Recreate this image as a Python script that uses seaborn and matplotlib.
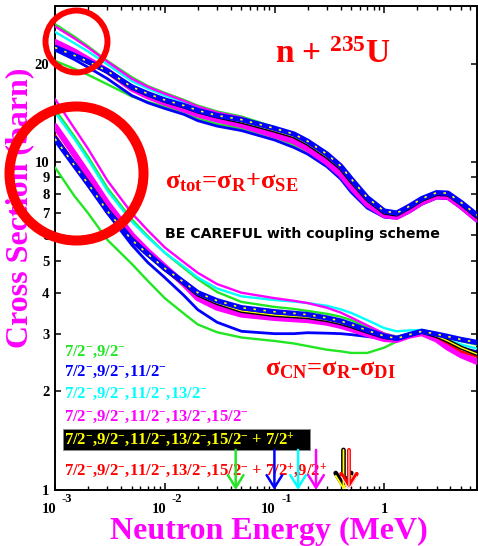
import matplotlib
matplotlib.use("Agg")
import matplotlib.pyplot as plt
import matplotlib.transforms as mtransforms
from matplotlib.patches import Rectangle
from matplotlib.ticker import LogLocator, NullFormatter, NullLocator
import seaborn as sns

# ---------------------------------------------------------------- data
energy = [0.001, 0.0015, 0.002, 0.003, 0.005, 0.007, 0.01, 0.015, 0.02,
          0.03, 0.05, 0.1, 0.15, 0.2, 0.3, 0.4, 0.5, 0.7, 1.0, 1.3, 1.7,
          2.2, 3.0, 3.8, 5.0, 7.0]

# total cross sections (barn)
tot_green_hi = [26.4, 24.2, 22.6, 20.4, 18.2, 17.1, 16.3, 15.5, 14.9, 14.3,
                13.8, 12.8, 12.1, 11.5, 10.5, 9.6, 8.8, 7.75, 7.05, 6.95,
                7.3, 7.7, 8.08, 8.08, 7.5, 6.85]
tot_green_lo = [20.4, 19.3, 18.5, 17.3, 15.9, 15.3, 14.8, 14.2, 13.6, 13.1,
                12.7, 11.9, 11.3, 10.8, 9.9, 9.1, 8.3, 7.4, 6.9, 6.85,
                7.2, 7.65, 8.02, 8.0, 7.45, 6.8]
tot_blue = [22.0, 20.6, 19.5, 18.0, 16.0, 15.2, 14.6, 14.0, 13.4, 12.9,
            12.5, 11.7, 11.1, 10.6, 9.7, 8.9, 8.1, 7.25, 6.8, 6.75,
            7.05, 7.45, 7.78, 7.75, 7.25, 6.6]
tot_cyan = [25.0, 23.1, 21.8, 19.9, 17.7, 16.8, 16.0, 15.3, 14.7, 14.1,
            13.6, 12.6, 12.0, 11.4, 10.4, 9.55, 8.75, 7.75, 7.1, 7.05,
            7.35, 7.7, 8.0, 7.98, 7.45, 6.8]
tot_magenta_a = [26.0, 23.9, 22.4, 20.3, 18.0, 17.0, 16.2, 15.4, 14.8, 14.2,
                 13.7, 12.6, 12.0, 11.3, 10.3, 9.4, 8.6, 7.6, 6.95, 6.88,
                 7.2, 7.6, 7.92, 7.9, 7.4, 6.75]
tot_magenta_b = [23.3, 21.8, 20.6, 19.0, 16.8, 15.9, 15.2, 14.5, 14.0, 13.5,
                 13.0, 12.1, 11.6, 11.0, 10.0, 9.2, 8.4, 7.45, 6.9, 6.82,
                 7.15, 7.55, 7.88, 7.85, 7.35, 6.7]
tot_red = [22.6, 21.3, 20.3, 18.95, 16.95, 16.15, 15.45, 14.85, 14.35, 13.85,
           13.35, 12.5, 12.0, 11.4, 10.4, 9.58, 8.72, 7.68, 7.0, 6.92,
           7.27, 7.66, 7.97, 7.95, 7.45, 6.8]
tot_black = [22.5, 21.2, 20.2, 18.9, 16.9, 16.1, 15.4, 14.8, 14.3, 13.8,
             13.3, 12.5, 12.0, 11.4, 10.4, 9.6, 8.75, 7.7, 7.02, 6.93,
             7.28, 7.68, 8.0, 7.98, 7.48, 6.82]
tot_eval = [22.4, 21.2, 20.3, 19.0, 17.0, 16.2, 15.5, 14.9, 14.4, 13.9,
            13.5, 12.7, 12.2, 11.6, 10.6, 9.75, 8.9, 7.8, 7.1, 7.0,
            7.35, 7.75, 8.08, 8.05, 7.55, 6.9]

# compound-nucleus formation cross sections (barn)
cn_green_hi = [14.5, 12.0, 10.4, 8.35, 6.7, 5.95, 5.3, 4.75, 4.4, 4.02,
               3.75, 3.62, 3.57, 3.52, 3.45, 3.38, 3.3, 3.14, 3.0, 2.94,
               3.0, 3.08, 3.0, 2.92, 2.85, 2.78]
cn_green_lo = [9.65, 7.9, 7.0, 5.8, 4.9, 4.35, 3.85, 3.45, 3.2, 3.03,
               2.92, 2.85, 2.8, 2.75, 2.68, 2.65, 2.62, 2.62, 2.72, 2.84,
               2.97, 3.06, 3.0, 2.92, 2.85, 2.78]
cn_blue = [12.8, 10.4, 8.9, 7.0, 5.6, 4.95, 4.45, 3.92, 3.55, 3.25,
           3.05, 3.0, 3.0, 3.02, 3.01, 3.0, 2.98, 2.94, 2.9, 2.9,
           2.99, 3.06, 2.95, 2.83, 2.72, 2.64]
cn_cyan = [14.2, 11.8, 10.2, 8.2, 6.6, 5.9, 5.3, 4.8, 4.45, 4.12,
           3.9, 3.8, 3.76, 3.72, 3.65, 3.56, 3.47, 3.3, 3.12, 3.05,
           3.07, 3.08, 2.97, 2.88, 2.78, 2.7]
cn_magenta_a = [15.6, 12.7, 11.0, 8.8, 7.0, 6.2, 5.5, 4.95, 4.6, 4.25,
                4.0, 3.85, 3.78, 3.72, 3.6, 3.48, 3.36, 3.18, 3.0, 2.93,
                3.0, 3.03, 2.9, 2.76, 2.6, 2.5]
cn_magenta_b = [12.9, 10.6, 9.2, 7.5, 6.0, 5.35, 4.8, 4.25, 3.85, 3.6,
                3.43, 3.35, 3.32, 3.3, 3.24, 3.17, 3.1, 2.99, 2.89, 2.87,
                2.96, 3.01, 2.88, 2.72, 2.58, 2.46]
cn_red = [12.1, 10.0, 8.8, 7.25, 5.9, 5.3, 4.78, 4.32, 3.98, 3.75,
          3.55, 3.44, 3.41, 3.38, 3.31, 3.24, 3.17, 3.05, 2.94, 2.91,
          3.0, 3.05, 2.93, 2.8, 2.65, 2.55]
cn_black = [11.9, 9.85, 8.65, 7.15, 5.82, 5.25, 4.72, 4.27, 3.95, 3.72,
            3.52, 3.42, 3.39, 3.37, 3.3, 3.23, 3.16, 3.04, 2.93, 2.9,
            2.98, 3.04, 2.95, 2.85, 2.72, 2.6]
cn_eval = [11.8, 9.8, 8.6, 7.1, 5.8, 5.25, 4.75, 4.3, 4.0, 3.78,
           3.6, 3.5, 3.46, 3.43, 3.35, 3.28, 3.2, 3.07, 2.95, 2.9,
           2.98, 3.05, 2.99, 2.94, 2.88, 2.82]

# coupling schemes
scheme_labels = [
    r"7/2$^{-}$,9/2$^{-}$",
    r"7/2$^{-}$,9/2$^{-}$,11/2$^{-}$",
    r"7/2$^{-}$,9/2$^{-}$,11/2$^{-}$,13/2$^{-}$",
    r"7/2$^{-}$,9/2$^{-}$,11/2$^{-}$,13/2$^{-}$,15/2$^{-}$",
    r"7/2$^{-}$,9/2$^{-}$,11/2$^{-}$,13/2$^{-}$,15/2$^{-}$ + 7/2$^{+}$",
    r"7/2$^{-}$,9/2$^{-}$,11/2$^{-}$,13/2$^{-}$,15/2$^{-}$ + 7/2$^{+}$,9/2$^{+}$",
]
# energies (MeV) of the highest coupled level in each scheme
level_energy = [0.0443, 0.0998, 0.164, 0.239, 0.425, 0.477]

# highlighted regions (energy, sigma)
ring_energy = [1.545e-3, 1.549e-3]
ring_sigma = [23.4, 9.30]

y_ticks = [1, 2, 3, 4, 5, 6, 7, 8, 9, 10, 20]
x_decades = [1e-3, 1e-2, 1e-1, 1.0]
x_exponents = ["-3", "-2", "-1", None]

# ---------------------------------------------------------------- style
GREEN = "#22e622"
BLUE = "#0000ff"
CYAN = "#00ffff"
MAGENTA = "#ff00ff"
RED = "#ff0000"
YELLOW = "#ffff00"

sns.set_theme(style="ticks")
plt.rcParams.update({
    "font.family": ["Liberation Serif", "DejaVu Serif"],
    "font.weight": "bold",
    "mathtext.fontset": "custom",
    "mathtext.rm": "Liberation Serif:bold",
    "mathtext.it": "Liberation Serif:bold",
    "mathtext.bf": "Liberation Serif:bold",
    "mathtext.default": "rm",
    "axes.linewidth": 1.4,
})

W, H = 478, 546
fig = plt.figure(figsize=(W / 100, H / 100), dpi=100)
L, R, T, B = 55, 477, 6, 490
ax = fig.add_axes([L / W, (H - B) / H, (R - L) / W, (B - T) / H])
ax.set_xscale("log")
ax.set_yscale("log")
ax.set_xlim(1e-3, 7.0)
ax.set_ylim(1.0, 30.0)


def frac(px, py):
    """pixel position in the canvas -> axes fraction"""
    return (px - L) / (R - L), (B - py) / (B - T)


def curve(vals, color, lw, z, **kw):
    sns.lineplot(x=energy, y=vals, ax=ax, color=color, linewidth=lw,
                 estimator=None, sort=False, zorder=z, **kw)


for tot, cn, color, lw, z in [
    (tot_green_hi, cn_green_hi, GREEN, 1.7, 3),
    (tot_green_lo, cn_green_lo, GREEN, 1.7, 3),
    (tot_blue, cn_blue, BLUE, 2.0, 4),
    (tot_cyan, cn_cyan, CYAN, 1.7, 5),
    (tot_magenta_a, cn_magenta_a, MAGENTA, 1.7, 6),
    (tot_magenta_b, cn_magenta_b, MAGENTA, 4.4, 6),
    (tot_red, cn_red, RED, 1.7, 7),
]:
    curve(tot, color, lw, z)
    curve(cn, color, lw, z)

# black curve with a yellow core
for vals in (tot_black, cn_black):
    curve(vals, "black", 3.0, 8)
    curve(vals, YELLOW, 1.0, 8.5)

# thick blue curve with yellow dots
for vals in (tot_eval, cn_eval):
    curve(vals, BLUE, 3.8, 9)
    curve(vals, YELLOW, 1.2, 9.5, linestyle=(0, (1.5, 4.5)))

# ---------------------------------------------------------------- axes
ax.set_yticks(y_ticks)
ax.set_yticklabels([str(v) for v in y_ticks])
ax.yaxis.set_minor_locator(NullLocator())
ax.set_xticks(x_decades)
ax.set_xticklabels([""] * len(x_decades))
ax.xaxis.set_minor_locator(LogLocator(base=10, subs=range(2, 10), numticks=20))
ax.xaxis.set_minor_formatter(NullFormatter())
ax.tick_params(which="both", direction="in", top=True, right=True,
               color="black")
ax.tick_params(axis="x", which="major", length=5, width=1.1)
ax.tick_params(axis="x", which="minor", length=2.8, width=1.0)
ax.tick_params(axis="y", which="major", length=4, width=1.1, pad=4,
               labelsize=10.5, labelcolor="black")
for lab in ax.get_yticklabels():
    lab.set_fontweight("bold")
for sp in ax.spines.values():
    sp.set_color("black")

# x tick labels drawn as "10" with a raised exponent to the right
blend = mtransforms.blended_transform_factory(ax.transData, ax.transAxes)
for xd, ex in zip(x_decades, x_exponents):
    if ex is None:
        ax.text(xd, frac(0, 513)[1], "1", transform=blend, ha="center",
                va="baseline", fontsize=10.5, fontweight="bold", color="black")
        continue
    t1 = mtransforms.offset_copy(blend, fig=fig, x=-6, y=0, units="dots")
    ax.text(xd, frac(0, 513)[1], "10", transform=t1, ha="center",
            va="baseline", fontsize=10.5, fontweight="bold", color="black")
    t2 = mtransforms.offset_copy(blend, fig=fig, x=12, y=0, units="dots")
    ax.text(xd, frac(0, 502)[1], ex, transform=t2, ha="center",
            va="baseline", fontsize=9, fontweight="bold", color="black")

ax.set_xlabel("Neutron Energy (MeV)", fontsize=23, color=MAGENTA,
              fontweight="bold")
ax.xaxis.set_label_coords(*frac(269, 517))
ax.set_ylabel("Cross Section (barn)", fontsize=23, color=MAGENTA,
              fontweight="bold")
ax.yaxis.set_label_coords(*frac(34, 208))

# ---------------------------------------------------------------- annotations
ax.text(*frac(275, 63), r"n + $^{235}$U", transform=ax.transAxes,
        fontsize=24, color=RED, fontweight="bold", va="baseline")
ax.text(*frac(165, 188), r"$\sigma_{tot}$=$\sigma_{R}$+$\sigma_{SE}$",
        transform=ax.transAxes, fontsize=19, color=RED, va="baseline")
ax.text(*frac(265, 375), r"$\sigma_{CN}$=$\sigma_{R}$-$\sigma_{DI}$",
        transform=ax.transAxes, fontsize=19, color=RED, va="baseline")
ax.text(*frac(165, 238), "BE CAREFUL with coupling scheme",
        transform=ax.transAxes, fontsize=10.2, color="black",
        family="DejaVu Sans", fontweight="bold", va="baseline")

legend_colors = [GREEN, BLUE, CYAN, MAGENTA, YELLOW, RED]
legend_base = [356, 376, 398, 421, 444, 475]
x0, y0 = frac(63, 450)
x1, y1 = frac(310, 429)
ax.add_patch(Rectangle((x0, y0), x1 - x0, y1 - y0, transform=ax.transAxes,
                       facecolor="black", edgecolor="#888888", lw=0.6,
                       zorder=10))
for lab, col, yb in zip(scheme_labels, legend_colors, legend_base):
    ax.text(*frac(64, yb), lab, transform=ax.transAxes, fontsize=12,
            color=col, va="baseline", zorder=11)

# arrows at the level energies
arrow_colors = [GREEN, BLUE, CYAN, MAGENTA, YELLOW, RED]
y_top = 10 ** ((B - 450) / 327)
style = "->,head_length=0.45,head_width=0.28"


def arrow(xe, col, lw):
    ax.annotate("", xy=(xe, 1.0), xytext=(xe, y_top),
                arrowprops=dict(arrowstyle=style, color=col, lw=lw,
                                mutation_scale=20, shrinkA=0, shrinkB=0),
                zorder=12)


for xe, col in zip(level_energy, arrow_colors):
    if col == YELLOW:
        arrow(xe, "black", 3.4)
        arrow(xe, YELLOW, 1.3)
    elif col == RED:
        arrow(xe, RED, 2.8)
        arrow(xe, "white", 0.7)
    else:
        arrow(xe, col, 1.8)

# red rings around the low-energy region
for xe, ys, ms, mw in zip(ring_energy, ring_sigma, [44.6, 96.5], [4.3, 7.2]):
    ax.plot([xe], [ys], marker="o", ms=ms, mfc="none", mec=RED, mew=mw,
            ls="none", clip_on=False, zorder=20)

fig.savefig("out.png", dpi=100)
